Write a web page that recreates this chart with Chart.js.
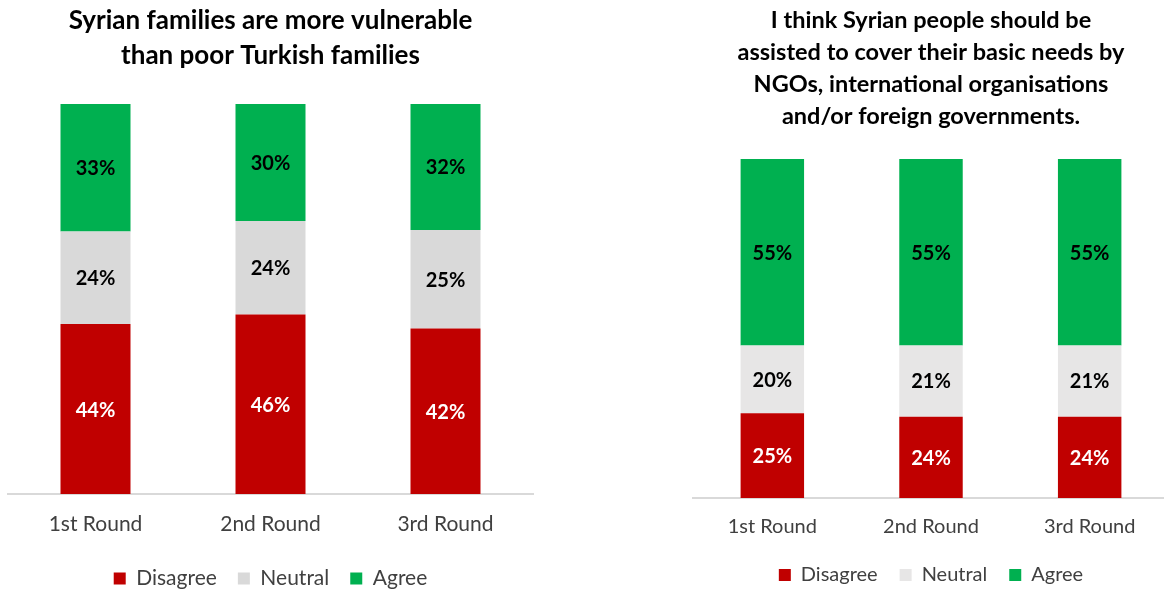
<!DOCTYPE html>
<html>
<head>
<meta charset="utf-8">
<script src="https://cdn.jsdelivr.net/npm/chart.js@4/dist/chart.umd.min.js"></script>
<style>
html, body { margin: 0; padding: 0; background: #fff; overflow: hidden; }
#boxLeft { position: absolute; left: 0; top: 0; }
#boxRight { position: absolute; left: 685px; top: 0; }
</style>
</head>
<body>
<canvas id="boxLeft" width="545" height="599"></canvas>
<canvas id="boxRight" width="490" height="595"></canvas>
<script>
const rounds = ["1st Round", "2nd Round", "3rd Round"];
const seriesNames = ["Disagree", "Neutral", "Agree"];

const leftTitle = ["Syrian families are more vulnerable", "than poor Turkish families"];
const leftDisagree = [44, 46, 42];
const leftNeutral = [24, 24, 25];
const leftAgree = [33, 30, 32];

const rightTitle = [
    "I think Syrian people should be",
    "assisted to cover their basic needs by",
    "NGOs, international organisations",
    "and/or foreign governments."
];
const rightDisagree = [25, 24, 24];
const rightNeutral = [20, 21, 21];
const rightAgree = [55, 55, 55];

// Excel draws these as 100% stacked bars, so each bar is scaled by its own total
function share(values, all) {
    return values.map((v, i) => v / (all[0][i] + all[1][i] + all[2][i]) * 100);
}

const barLabels = {
    id: "barLabels",
    afterDatasetsDraw(chart) {
        const ctx = chart.ctx;
        ctx.save();
        ctx.font = "bold 20px Lato";
        ctx.textAlign = "center";
        ctx.textBaseline = "middle";
        chart.data.datasets.forEach((ds, i) => {
            chart.getDatasetMeta(i).data.forEach((bar, j) => {
                ctx.fillStyle = ds.labelColor;
                ctx.fillText(ds.raw[j] + "%", bar.x, (bar.y + bar.base) / 2 + 1);
            });
        });
        ctx.restore();
    }
};

function plotChart(canvasId, title, s, neutralColor) {
    const all = [s.disagree, s.neutral, s.agree];
    const colors = ["#C00000", neutralColor, "#00B050"];
    const labelColors = ["#FFFFFF", "#000000", "#000000"];
    const datasets = all.map((vals, i) => ({
        label: seriesNames[i],
        data: share(vals, all),
        raw: vals,
        backgroundColor: colors[i],
        labelColor: labelColors[i],
        barPercentage: 0.4,
        categoryPercentage: 1
    }));

    new Chart(document.getElementById(canvasId), {
        type: "bar",
        data: { labels: rounds, datasets: datasets },
        plugins: [barLabels],
        options: {
            responsive: false,
            animation: false,
            layout: { padding: s.padding },
            plugins: {
                title: {
                    display: true,
                    text: title,
                    color: "#000000",
                    font: { family: "Lato", size: s.titleSize, weight: "bold", lineHeight: s.titleLine },
                    padding: s.titlePad
                },
                legend: {
                    position: "bottom",
                    labels: {
                        color: "#404040",
                        font: { family: "Lato", size: s.legendSize },
                        boxWidth: 12,
                        boxHeight: 12,
                        padding: s.legendPad
                    }
                },
                tooltip: { enabled: false }
            },
            scales: {
                x: {
                    stacked: true,
                    grid: { display: false, drawTicks: false },
                    border: { display: true, color: "#D9D9D9", width: 2 },
                    ticks: { color: "#404040", font: { family: "Lato", size: s.tickSize }, padding: s.tickPad },
                    afterFit: scale => { scale.height = s.axisHeight; }
                },
                y: {
                    stacked: true,
                    display: false,
                    min: 0,
                    max: 100
                }
            }
        }
    });
}

plotChart("boxLeft", leftTitle, {
    disagree: leftDisagree, neutral: leftNeutral, agree: leftAgree,
    padding: { left: 8, right: 12, top: 0, bottom: 0 },
    titleSize: 26, titleLine: "35px", titlePad: { top: 3, bottom: 31 },
    tickSize: 21, tickPad: 18, axisHeight: 53,
    legendSize: 21, legendPad: 21
}, "#D9D9D9");

plotChart("boxRight", rightTitle, {
    disagree: rightDisagree, neutral: rightNeutral, agree: rightAgree,
    padding: { left: 8, right: 6, top: 0, bottom: 0 },
    titleSize: 23.5, titleLine: "32px", titlePad: { top: 4, bottom: 27 },
    tickSize: 20, tickPad: 17, axisHeight: 45,
    legendSize: 20, legendPad: 22
}, "#E7E6E6");
</script>
</body>
</html>
